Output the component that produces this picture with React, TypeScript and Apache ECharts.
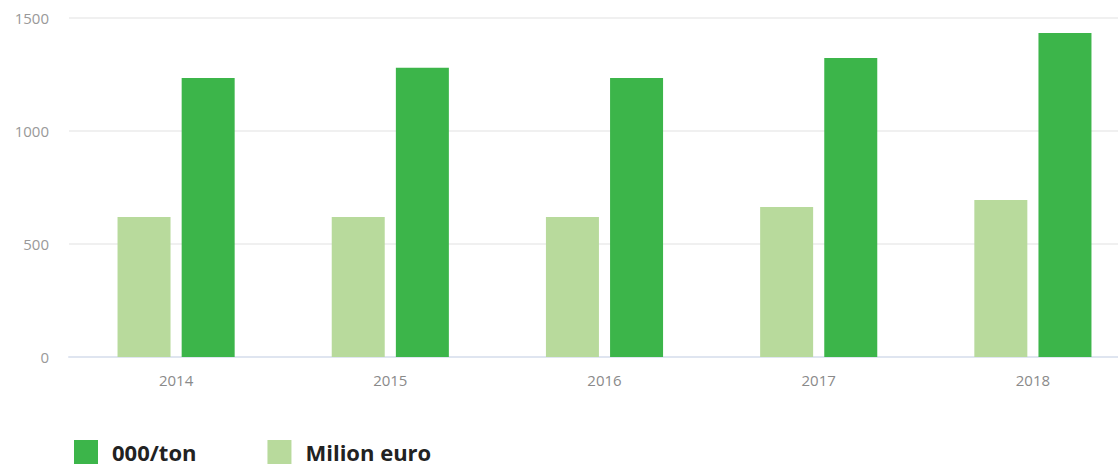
import React, { useEffect, useRef } from "react";
import * as echarts from "echarts";

const categories = ["2014", "2015", "2016", "2017", "2018"];
const tonValues = [1235, 1280, 1235, 1323, 1434];
const euroValues = [620, 620, 620, 664, 695];
const seriesNames = ["000/ton", "Milion euro"];

export default function App() {
  const ref = useRef<HTMLDivElement>(null);
  useEffect(() => {
    if (!ref.current) return;
    const chart = echarts.init(ref.current, undefined, { renderer: "svg" });
    chart.setOption({
      animation: false,
      grid: { left: 69, top: 18, bottom: 109, width: 1071 },
      legend: {
        data: [seriesNames[0], seriesNames[1]],
        left: 74,
        top: 440,
        padding: 0,
        itemWidth: 24,
        itemHeight: 24,
        itemGap: 71,
        icon: "rect",
        textStyle: {
          fontFamily: "Open Sans",
          fontWeight: "bold",
          fontSize: 22,
          lineHeight: 24,
          color: "#222",
          padding: [0, 0, 0, 9],
        },
      },
      xAxis: {
        type: "category",
        data: categories,
        axisLine: { lineStyle: { color: "#dfe5f0", width: 2 } },
        axisTick: { show: false },
        axisLabel: { color: "#8a8a8a", fontSize: 15, margin: 15, fontFamily: "Open Sans" },
      },
      yAxis: {
        type: "value",
        min: 0,
        max: 1500,
        interval: 500,
        axisLine: { show: false },
        axisTick: { show: false },
        splitLine: { lineStyle: { color: "#f0f0f0", width: 2 } },
        axisLabel: {
          color: "#999",
          fontSize: 15,
          margin: 20,
          fontFamily: "Open Sans",
          formatter: (v: number) => String(v),
        },
      },
      series: [
        {
          name: seriesNames[1],
          type: "bar",
          data: euroValues,
          barWidth: 53,
          barGap: "21%",
          itemStyle: { color: "#b8da9c" },
        },
        {
          name: seriesNames[0],
          type: "bar",
          data: tonValues,
          barWidth: 53,
          barGap: "21%",
          itemStyle: { color: "#3cb54a" },
        },
      ],
    });
    return () => chart.dispose();
  }, []);
  return (
    <div style={{ position: "fixed", left: 0, top: 0, width: 1118, height: 466, overflow: "hidden", background: "#fff" }}>
      <div ref={ref} style={{ width: 1150, height: 466 }} />
    </div>
  );
}
